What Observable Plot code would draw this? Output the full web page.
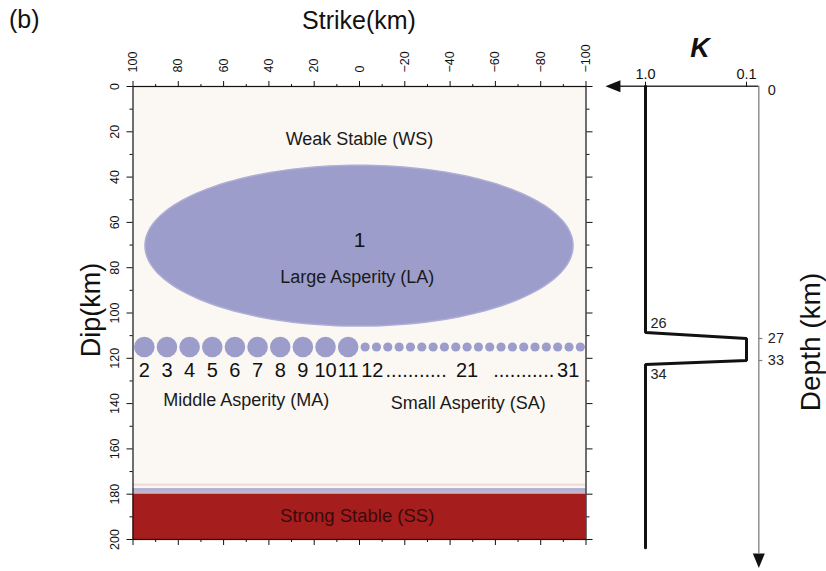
<!DOCTYPE html>
<html>
<head>
<meta charset="utf-8">
<script src="https://cdn.jsdelivr.net/npm/d3@7"></script>
<script src="https://cdn.jsdelivr.net/npm/@observablehq/plot@0.6"></script>
<style>
  body { margin: 0; background: #ffffff; font-family: "Liberation Sans", Arial, sans-serif; }
  #wrap { position: relative; width: 826px; height: 571px; overflow: hidden; background: #ffffff; }
  #wrap svg { position: absolute; top: 0; }
  .lbl { position: absolute; color: #111; white-space: nowrap; line-height: 1; }
  .rot { transform: translate(-50%, -50%) rotate(-90deg); }
</style>
</head>
<body>
<div id="wrap">
  <div class="lbl" style="left:9px; top:7px; font-size:25px;">(b)</div>
  <div class="lbl" style="left:359px; top:20px; font-size:25px; transform:translate(-50%,-50%);">Strike(km)</div>
  <div class="lbl rot" style="left:91px; top:310px; font-size:27px;">Dip(km)</div>
  <div class="lbl" style="left:700px; top:48px; font-size:27px; font-weight:bold; font-style:italic; transform:translate(-50%,-50%);">K</div>
  <div class="lbl rot" style="left:811px; top:342px; font-size:28px;">Depth (km)</div>
</div>
<script>
// Fault plane: strike axis (km) and dip axis (km)
const strikeTicks = [100, 80, 60, 40, 20, 0, -20, -40, -60, -80, -100];
const strikeMinor = [90, 70, 50, 30, 10, -10, -30, -50, -70, -90];
const dipTicks = [0, 20, 40, 60, 80, 100, 120, 140, 160, 180, 200];
const dipMinor = [10, 30, 50, 70, 90, 110, 130, 150, 170, 190];

// Large asperity (LA), patch 1: centre and half-widths in km
const laId = "1";
const laStrike = 0;
const laDip = 70.5;
const laHalfStrike = 94.5;
const laHalfDip = 35.5;

// Middle asperities (MA), patches 2-11
const maIds = ["2", "3", "4", "5", "6", "7", "8", "9", "10", "11"];
const maStrike = [95, 85, 75, 65, 55, 45, 35, 25, 15, 5];
const maDip = 115;

// Small asperities (SA), patches 12-31
const saIds = [12, 13, 14, 15, 16, 17, 18, 19, 20, 21, 22, 23, 24, 25, 26, 27, 28, 29, 30, 31];
const saStrike = [-2.5, -7.5, -12.5, -17.5, -22.5, -27.5, -32.5, -37.5, -42.5, -47.5,
                  -52.5, -57.5, -62.5, -67.5, -72.5, -77.5, -82.5, -87.5, -92.5, -97.5];
const saDip = 115;
const saShown = [12, 21, 31];

// Stable zones
const zoneNames = ["Weak Stable (WS)", "Large Asperity (LA)", "Middle Asperity (MA)", "Small Asperity (SA)", "Strong Stable (SS)"];
const ssTop = 180;
const ssBottom = 200;
const transitionTop = [175.5, 177.5];
const transitionBottom = [176.5, 179.2];

// Friction parameter K versus depth (km)
const kDepth = [0, 26, 27, 33, 34, 50];
const kValue = [1.0, 1.0, 0.1, 0.1, 1.0, 1.0];
const kTicks = [1.0, 0.1];
const depthTicks = [0, 27, 33];
const cornerDepths = [26, 34];

// ---------- colours and fonts ----------
const cream = "#fbf8f4";
const lavender = "#9d9dcb";
const ssRed = "#a51d1d";
const font = "'Liberation Sans', Arial, sans-serif";

// Outline of the large asperity as an ellipse (upper and lower edges per strike)
const laOutline = d3.range(0, 181, 2).map(deg => {
  const t = deg * Math.PI / 180;
  const h = laHalfDip * Math.sin(t);
  return {x: laStrike + laHalfStrike * Math.cos(t), y1: laDip - h, y2: laDip + h};
});

const maData = maIds.map((id, i) => ({id, strike: maStrike[i], dip: maDip}));
const saData = saIds.map((id, i) => ({id, strike: saStrike[i], dip: saDip}));
const saLabelData = saData.filter(d => saShown.includes(d.id));
const leaderData = [
  {strike: (saLabelData[0].strike + saLabelData[1].strike) / 2},
  {strike: (saLabelData[1].strike + saLabelData[2].strike) / 2}
];
const bands = transitionTop.map((t, i) => ({top: t, bottom: transitionBottom[i], kind: i === 0 ? "pink" : "blue"}));
const numberStyle = {y: 125.4, fontSize: 20, fill: "#111"};

const main = Plot.plot({
  width: 826,
  height: 571,
  marginLeft: 132.5,
  marginRight: 240.5,
  marginTop: 86,
  marginBottom: 32,
  style: {fontFamily: font, background: "transparent", color: "#111"},
  x: {domain: [100, -100]},
  y: {domain: [0, 200], reverse: true},
  marks: [
    Plot.frame({fill: cream, stroke: null}),
    // transition layers above the strong stable zone
    Plot.rect(bands, {x1: 100, x2: -100, y1: "top", y2: "bottom",
      fill: d => d.kind === "pink" ? "#f0dada" : "#b2b2d8"}),
    Plot.rect([{top: 179.2, bottom: ssTop}], {x1: 100, x2: -100, y1: "top", y2: "bottom", fill: "#c9b4bb"}),
    Plot.rect([{top: ssTop, bottom: ssBottom}], {x1: 100, x2: -100, y1: "top", y2: "bottom", fill: ssRed}),
    // large asperity
    Plot.area(laOutline, {x1: "x", y1: "y1", y2: "y2", fill: lavender, stroke: "#adadd5", strokeWidth: 1.5, curve: "linear"}),
    // middle and small asperities
    Plot.dot(maData, {x: "strike", y: "dip", r: 10.3, fill: lavender}),
    Plot.dot(saData, {x: "strike", y: "dip", r: 4.6, fill: lavender}),
    // patch numbers
    Plot.text([laId], {x: laStrike, y: 68, text: d => d, fontSize: 21, fill: "#111"}),
    Plot.text(maData, {x: "strike", text: "id", ...numberStyle}),
    Plot.text(saLabelData.slice(0, 1), {x: "strike", text: d => String(d.id), textAnchor: "start", dx: -4, ...numberStyle}),
    Plot.text(saLabelData.slice(1, 2), {x: "strike", text: d => String(d.id), textAnchor: "middle", ...numberStyle}),
    Plot.text(saLabelData.slice(2, 3), {x: "strike", text: d => String(d.id), textAnchor: "end", dx: -1, ...numberStyle}),
    Plot.text(leaderData, {x: "strike", text: () => "...........", ...numberStyle}),
    // zone names
    Plot.text([zoneNames[0]], {x: 0, y: 23.4, text: d => d, fontSize: 18, fill: "#1a1a1a"}),
    Plot.text([zoneNames[1]], {x: 1, y: 84.2, text: d => d, fontSize: 18, fill: "#1a1a1a"}),
    Plot.text([zoneNames[2]], {x: 50, y: 138.3, text: d => d, fontSize: 18, fill: "#1a1a1a"}),
    Plot.text([zoneNames[3]], {x: -48, y: 140, text: d => d, fontSize: 18, fill: "#1a1a1a"}),
    Plot.text([zoneNames[4]], {x: 1, y: 189.8, text: d => d, fontSize: 18.5, fill: "#3a0b0b"}),
    // axes
    Plot.frame({stroke: "#111", strokeWidth: 1.2}),
    Plot.axisX({anchor: "top", ticks: strikeTicks, tickRotate: -90, tickSize: 6, tickPadding: 8, fontSize: 12.5, label: null}),
    Plot.axisX({anchor: "top", ticks: strikeMinor, tickSize: 3, tickFormat: () => "", label: null}),
    Plot.axisX({anchor: "bottom", ticks: strikeTicks, tickSize: 6, tickFormat: () => "", label: null}),
    Plot.axisX({anchor: "bottom", ticks: strikeMinor, tickSize: 3, tickFormat: () => "", label: null}),
    Plot.axisY({anchor: "left", ticks: dipTicks, tickRotate: -90, tickSize: 6, tickPadding: 8, fontSize: 12.5, label: null}),
    Plot.axisY({anchor: "left", ticks: dipMinor, tickSize: 3, tickFormat: () => "", label: null}),
    Plot.axisY({anchor: "right", ticks: dipTicks, tickSize: 6, tickFormat: () => "", label: null}),
    Plot.axisY({anchor: "right", ticks: dipMinor, tickSize: 3, tickFormat: () => "", label: null})
  ]
});
main.style.left = "0px";
document.getElementById("wrap").appendChild(main);

// ---------- K profile panel ----------
const kAxisLeft = 1.77;     // left end of the K axis (arrow base)
const kAxisRight = 0.0755;  // position of the depth axis
const depthAxisEnd = 50.5;  // lower end of the depth axis (arrow base)

// The depth axis is schematic: the thin weak layer (26-34 km) is drawn
// against the dip band of the asperities, so depth is stretched piecewise.
const depthStretch = d3.scaleLinear()
  .domain([0, 26, 27, 33, 34, depthAxisEnd])
  .range([0, 246.3, 252.3, 274.3, 278.3, 467.3]);

const triLeft = {draw(ctx, size) { const s = Math.sqrt(size / Math.PI); ctx.moveTo(0, -s); ctx.lineTo(0, s); ctx.lineTo(-2.5 * s, 0); ctx.closePath(); }};
const triDown = {draw(ctx, size) { const s = Math.sqrt(size / Math.PI); ctx.moveTo(-s, 0); ctx.lineTo(s, 0); ctx.lineTo(0, 2.4 * s); ctx.closePath(); }};

const profile = kDepth.map((d, i) => ({depth: d, k: kValue[i]}));
const smallText = {textAnchor: "start", fontSize: 14.5, fill: "#222"};

const side = Plot.plot({
  width: 236,
  height: 571,
  marginLeft: 15,
  marginRight: 67.7,
  marginTop: 85.7,
  marginBottom: 18,
  style: {fontFamily: font, background: "transparent", color: "#111"},
  x: {type: "log", domain: [1, 0.1], range: [55, 156]},
  y: {axis: null, transform: d => depthStretch(d), domain: [0, 467.3], range: [85.7, 553]},
  marks: [
    Plot.ruleY([0], {x1: kAxisLeft, x2: kAxisRight, stroke: "#333", strokeWidth: 1.4}),
    Plot.ruleX([kAxisRight], {y1: 0, y2: depthAxisEnd, stroke: "#808080", strokeWidth: 1.3}),
    Plot.dot([0], {x: kAxisLeft, y: 0, r: 6, symbol: triLeft, fill: "#111", stroke: null}),
    Plot.dot([0], {x: kAxisRight, y: depthAxisEnd, r: 6, symbol: triDown, fill: "#111", stroke: null}),
    Plot.line(profile, {x: "k", y: "depth", stroke: "#111", strokeWidth: 3, strokeLinejoin: "miter", curve: "linear"}),
    // depths of the corners of the weak layer
    Plot.text(cornerDepths.slice(0, 1), {x: kValue[1], y: d => d, text: d => String(d), dx: 5, dy: -9, ...smallText}),
    Plot.text(cornerDepths.slice(1, 2), {x: kValue[4], y: d => d, text: d => String(d), dx: 5, dy: 10, ...smallText}),
    Plot.axisX({anchor: "top", ticks: kTicks, tickFormat: d3.format(".1f"), tickSize: 5, tickPadding: 2, fontSize: 14.5, label: null}),
    // depth ticks and labels on the right-hand axis
    Plot.ruleY(depthTicks.slice(1), {x1: kAxisRight, x2: kAxisRight, y: d => d, insetRight: -4, stroke: "#808080", strokeWidth: 1.2}),
    Plot.text(depthTicks.slice(0, 1), {x: kAxisRight, y: d => d, text: d => String(d), dx: 9, dy: 4, ...smallText}),
    Plot.text(depthTicks.slice(1), {x: kAxisRight, y: d => d, text: d => String(d), dx: 9, ...smallText})
  ]
});
side.style.left = "590px";
document.getElementById("wrap").appendChild(side);
</script>
</body>
</html>
